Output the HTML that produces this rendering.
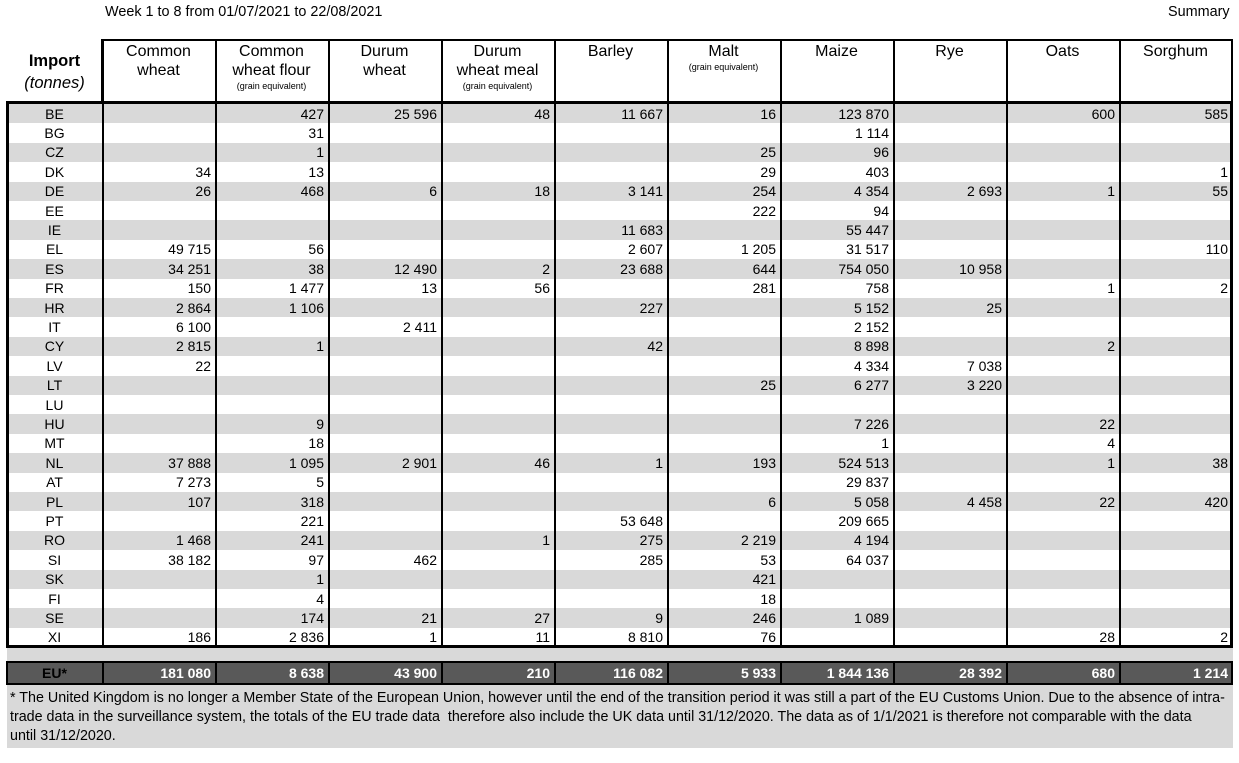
<!DOCTYPE html>
<html><head><meta charset="utf-8"><style>
body{margin:0;width:1239px;height:763px;background:#fff;font-family:"Liberation Sans",Arial,sans-serif;position:relative;overflow:hidden}
.a{position:absolute}
.t{font-size:14px;color:#000;white-space:nowrap;line-height:19px}
.r{text-align:right}
.c{text-align:center}
.h{font-size:16px;text-align:center;line-height:19px;top:42px}
.s{font-size:9px;display:block;line-height:12px}
</style></head><body>
<div class="a t" style="left:105px;top:3px;font-size:14.4px">Week 1 to 8 from 01/07/2021 to 22/08/2021</div>
<div class="a t" style="left:1168px;top:3px;font-size:14.4px">Summary</div>
<div id="g"></div>
<script>
var cols=[7,102,215,328,441,554,667,780,893,1006,1119,1232];
var D=[
["BE","","427","25 596","48","11 667","16","123 870","","600","585"],
["BG","","31","","","","","1 114","","",""],
["CZ","","1","","","","25","96","","",""],
["DK","34","13","","","","29","403","","","1"],
["DE","26","468","6","18","3 141","254","4 354","2 693","1","55"],
["EE","","","","","","222","94","","",""],
["IE","","","","","11 683","","55 447","","",""],
["EL","49 715","56","","","2 607","1 205","31 517","","","110"],
["ES","34 251","38","12 490","2","23 688","644","754 050","10 958","",""],
["FR","150","1 477","13","56","","281","758","","1","2"],
["HR","2 864","1 106","","","227","","5 152","25","",""],
["IT","6 100","","2 411","","","","2 152","","",""],
["CY","2 815","1","","","42","","8 898","","2",""],
["LV","22","","","","","","4 334","7 038","",""],
["LT","","","","","","25","6 277","3 220","",""],
["LU","","","","","","","","","",""],
["HU","","9","","","","","7 226","","22",""],
["MT","","18","","","","","1","","4",""],
["NL","37 888","1 095","2 901","46","1","193","524 513","","1","38"],
["AT","7 273","5","","","","","29 837","","",""],
["PL","107","318","","","","6","5 058","4 458","22","420"],
["PT","","221","","","53 648","","209 665","","",""],
["RO","1 468","241","","1","275","2 219","4 194","","",""],
["SI","38 182","97","462","","285","53","64 037","","",""],
["SK","","1","","","","421","","","",""],
["FI","","4","","","","18","","","",""],
["SE","","174","21","27","9","246","1 089","","",""],
["XI","186","2 836","1","11","8 810","76","","","28","2"]];
var EU=["EU*","181 080","8 638","43 900","210","116 082","5 933","1 844 136","28 392","680","1 214"];
var H=[["Common<br>wheat"],["Common<br>wheat flour","(grain equivalent)"],["Durum<br>wheat"],["Durum<br>wheat meal","(grain equivalent)"],["Barley"],["Malt","(grain equivalent)"],["Maize"],["Rye"],["Oats"],["Sorghum"]];
var h="",top0=104,rh=19.4;
h+='<div class="a" style="left:101px;top:39px;width:1132px;height:65px;border:2px solid #000;border-bottom:none;box-sizing:border-box"></div>';
h+='<div class="a c" style="left:7px;top:52px;width:95px;font-size:16.5px;font-weight:bold">Import</div>';
h+='<div class="a c" style="left:7px;top:74px;width:95px;font-size:16.5px;font-style:italic">(tonnes)</div>';
for(var i=0;i<10;i++){var x=cols[i+1],w=cols[i+2]-x;
 h+='<div class="a h" style="left:'+x+'px;width:'+w+'px">'+H[i][0]+(H[i][1]?'<span class="s">'+H[i][1]+'</span>':'')+'</div>';}
for(var r=0;r<D.length;r++){var y=top0+r*rh;
 if(r%2==0)h+='<div class="a" style="left:7px;top:'+y+'px;width:1226px;height:'+rh+'px;background:#d9d9d9"></div>';
 h+='<div class="a t c" style="left:7px;width:95px;top:'+(y+0.5)+'px">'+D[r][0]+'</div>';
 for(var i=1;i<=10;i++){var x=cols[i],w=cols[i+1]-x;
  h+='<div class="a t r" style="left:'+x+'px;width:'+(w-4)+'px;top:'+(y+0.5)+'px">'+D[r][i]+'</div>';}}
var bot=top0+D.length*rh;
for(var i=1;i<=10;i++){h+='<div class="a" style="left:'+(cols[i]-0.5)+'px;top:40px;width:2px;height:'+(bot-40)+'px;background:#000"></div>';}
h+='<div class="a" style="left:6px;top:101px;width:1227px;height:'+(bot-100)+'px;border:3px solid #000;box-sizing:border-box"></div>';
h+='<div class="a" style="left:6px;top:101px;width:97px;height:3px;background:#000"></div>';
h+='<div class="a" style="left:7px;top:648px;width:1226px;height:13px;background:#d9d9d9"></div>';
h+='<div class="a" style="left:6px;top:661px;width:1227px;height:24px;background:#595959;border:2px solid #000;box-sizing:border-box"></div>';
for(var i=1;i<=10;i++)h+='<div class="a" style="left:'+(cols[i]-0.5)+'px;top:661px;width:2px;height:24px;background:#000"></div>';
h+='<div class="a t c" style="left:7px;width:95px;top:664px;color:#000;font-weight:bold">EU*</div>';
for(var i=1;i<=10;i++){var x=cols[i],w=cols[i+1]-x;
 h+='<div class="a t r" style="left:'+x+'px;width:'+(w-4)+'px;top:664px;color:#fff;font-weight:bold">'+EU[i]+'</div>';}
h+='<div class="a" style="left:7px;top:685px;width:1226px;height:63px;background:#d9d9d9"></div>';
h+='<div class="a" style="left:10px;top:689px;width:1225px;font-size:14.3px;line-height:19px;white-space:nowrap">* The United Kingdom is no longer a Member State of the European Union, however until the end of the transition period it was still a part of the EU Customs Union. Due to the absence of intra-<br>trade data in the surveillance system, the totals of the EU trade data &nbsp;therefore also include the UK data until 31/12/2020. The data as of 1/1/2021 is therefore not comparable with the data<br>until 31/12/2020.</div>';
document.getElementById("g").innerHTML=h;
</script>
</body></html>
